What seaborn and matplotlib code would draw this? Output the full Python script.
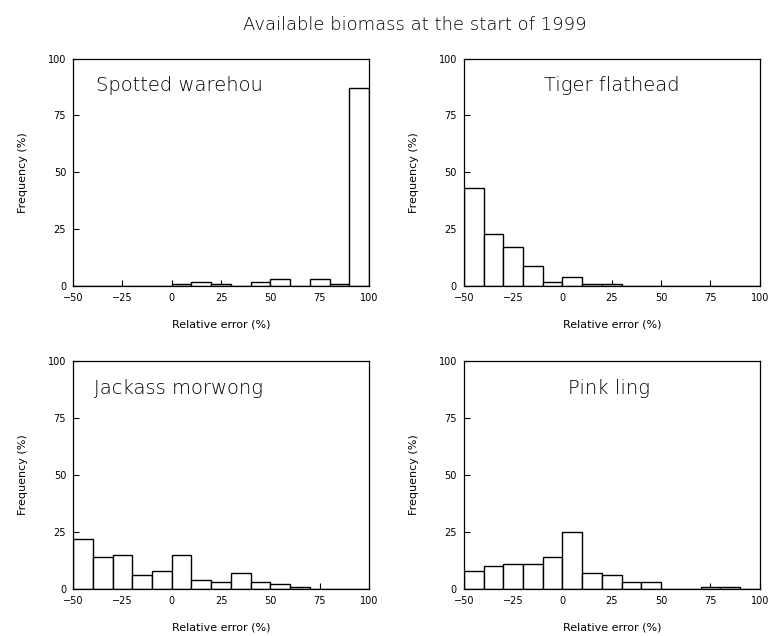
import numpy as np
import pandas as pd
import matplotlib
matplotlib.use('Agg')
import matplotlib.pyplot as plt
import seaborn as sns

# bin edges for relative error (%)
edges = [-50, -40, -30, -20, -10, 0, 10, 20, 30, 40, 50, 60, 70, 80, 90, 100]

species = ['Spotted warehou', 'Tiger flathead', 'Jackass morwong', 'Pink ling']

# frequency (%) per bin
spotted_warehou = [0, 0, 0, 0, 0, 1, 2, 1, 0, 2, 3, 0, 3, 1, 87]
tiger_flathead = [43, 23, 17, 9, 2, 4, 1, 1, 0, 0, 0, 0, 0, 0, 0]
jackass_morwong = [22, 14, 15, 6, 8, 15, 4, 3, 7, 3, 2, 1, 0, 0, 0]
pink_ling = [8, 10, 11, 11, 14, 25, 7, 6, 3, 3, 0, 0, 1, 1, 0]

freqs = [spotted_warehou, tiger_flathead, jackass_morwong, pink_ling]
label_x = [0.36, 0.5, 0.355, 0.49]

sns.set_style('ticks', {'text.color': 'black', 'axes.labelcolor': 'black',
                        'xtick.color': 'black', 'ytick.color': 'black',
                        'axes.edgecolor': 'black'})
plt.rcParams['font.family'] = ['DejaVu Sans']

fig, axes = plt.subplots(2, 2, figsize=(7.69, 6.36), dpi=100)
fig.subplots_adjust(left=0.095, right=0.988, top=0.908, bottom=0.074,
                    wspace=0.32, hspace=0.33)

centers = [(a + b) / 2 for a, b in zip(edges[:-1], edges[1:])]

for ax, name, f, lx in zip(axes.flat, species, freqs, label_x):
    df = pd.DataFrame({'err': centers, 'freq': f})
    sns.histplot(data=df, x='err', weights='freq', bins=edges, stat='count',
                 color='white', edgecolor='black', linewidth=1.0, alpha=1,
                 ax=ax)
    ax.set_xlim(-50, 100)
    ax.set_ylim(0, 100)
    ax.set_xticks([-50, -25, 0, 25, 50, 75, 100])
    ax.set_yticks([0, 25, 50, 75, 100])
    ax.tick_params(axis='x', direction='in', length=4, width=0.8,
                   labelsize=7, pad=5)
    ax.tick_params(axis='y', direction='in', length=4, width=0.8,
                   labelsize=7, pad=5)
    for s in ax.spines.values():
        s.set_visible(True)
        s.set_linewidth(0.9)
    ax.set_xlabel('Relative error (%)', fontsize=8, labelpad=12)
    ax.set_ylabel('Frequency (%)', fontsize=8, labelpad=14)
    ax.text(lx, 0.88, name, transform=ax.transAxes, ha='center',
            va='center', fontsize=14, fontweight='light', color='black')

fig.suptitle('Available biomass at the start of 1999', x=0.54, y=0.975,
             fontsize=13, fontweight='light', color='black')

plt.savefig('out.png', dpi=100)
